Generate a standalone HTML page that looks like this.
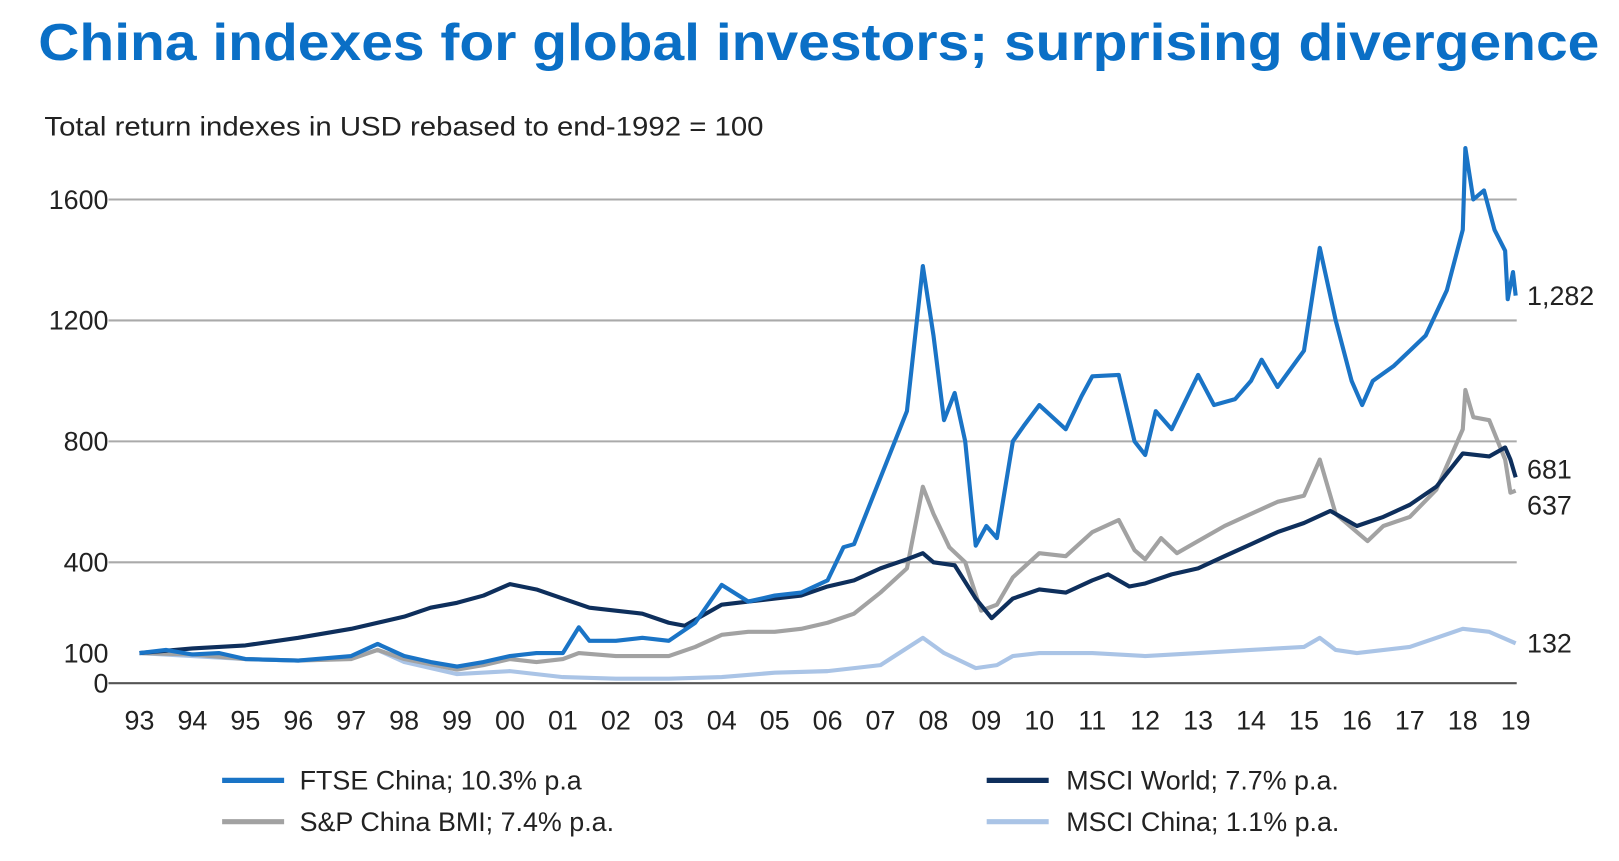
<!DOCTYPE html>
<html><head><meta charset="utf-8"><style>
html,body{margin:0;padding:0;background:#fff;}
svg{display:block;font-family:"Liberation Sans",Arial,sans-serif;}
</style></head><body>
<svg id="chart" width="1619" height="861" viewBox="0 0 1567 833" preserveAspectRatio="none" xmlns="http://www.w3.org/2000/svg">
<text x="37" y="58" font-size="50" font-weight="bold" fill="#0a6fc6" textLength="1511" lengthAdjust="spacingAndGlyphs">China indexes for global investors; surprising divergence</text>
<text x="43" y="131" font-size="26" fill="#222" textLength="696" lengthAdjust="spacingAndGlyphs">Total return indexes  in USD rebased  to end-1992  = 100</text>
<g id="grid"></g><g id="series"></g><g id="labels"></g>
<g font-size="26" fill="#222">
 <line x1="215" y1="755" x2="275" y2="755" stroke="#1a74c6" stroke-width="5"/>
 <text x="290" y="764">FTSE China; 10.3% p.a</text>
 <line x1="215" y1="795" x2="275" y2="795" stroke="#a2a2a2" stroke-width="5"/>
 <text x="290" y="804">S&amp;P China BMI; 7.4% p.a.</text>
 <line x1="955" y1="755" x2="1015" y2="755" stroke="#0e2f5c" stroke-width="5"/>
 <text x="1032" y="764">MSCI World; 7.7% p.a.</text>
 <line x1="955" y1="795" x2="1015" y2="795" stroke="#aac4e6" stroke-width="5"/>
 <text x="1032" y="804">MSCI China; 1.1% p.a.</text>
</g>
</svg>
<script>
const yTicks=[0,100,400,800,1200,1600];
const gridVals=[400,800,1200,1600];
const xTickLabels=["93","94","95","96","97","98","99","00","01","02","03","04","05","06","07","08","09","10","11","12","13","14","15","16","17","18","19"];
const ftseX=[93,93.5,94,94.5,95,96,97,97.5,98,98.5,99,99.5,100,100.5,101,101.3,101.5,102,102.5,103,103.5,104,104.5,105,105.5,106,106.3,106.5,107,107.5,107.8,108,108.2,108.4,108.6,108.8,109,109.2,109.5,109.7,110,110.5,110.8,111,111.5,111.8,112,112.2,112.5,113,113.3,113.7,114,114.2,114.5,115,115.3,115.6,115.9,116.1,116.3,116.7,117,117.3,117.7,118,118.05,118.2,118.4,118.6,118.8,118.85,118.95,119];
const ftseV=[100,110,95,100,80,75,90,130,90,70,55,70,90,100,100,185,140,140,150,140,200,325,270,290,300,340,450,460,680,900,1380,1150,870,960,800,455,520,480,800,850,920,840,950,1015,1020,800,755,900,840,1020,920,940,1000,1070,980,1100,1440,1200,1000,920,1000,1050,1100,1150,1300,1500,1770,1600,1630,1500,1430,1270,1360,1282];
const worldX=[93,94,95,96,97,98,98.5,99,99.5,100,100.5,101,101.5,102,102.5,103,103.3,104,104.5,105,105.5,106,106.5,107,107.5,107.8,108,108.4,108.8,109.1,109.5,110,110.5,111,111.3,111.7,112,112.5,113,113.5,114,114.5,115,115.5,116,116.5,117,117.5,118,118.5,118.8,118.9,119];
const worldV=[100,115,125,150,180,220,250,266,290,328,310,280,250,240,230,200,190,260,270,280,290,320,340,380,410,430,400,390,280,215,280,310,300,340,360,320,330,360,380,420,460,500,530,570,520,550,590,650,760,750,780,740,681];
const spX=[93,94,95,96,97,97.5,98,99,99.5,100,100.5,101,101.3,102,102.5,103,103.5,104,104.5,105,105.5,106,106.5,107,107.5,107.8,108,108.3,108.6,108.9,109.2,109.5,110,110.5,111,111.5,111.8,112,112.3,112.6,113,113.5,114,114.5,115,115.3,115.6,116,116.2,116.5,117,117.5,118,118.05,118.2,118.5,118.8,118.9,119];
const spV=[100,95,80,75,80,110,80,45,60,80,70,80,100,90,90,90,120,160,170,170,180,200,230,300,380,650,560,450,400,240,260,350,430,420,500,540,440,410,480,430,470,520,560,600,620,740,560,500,470,520,550,640,840,970,880,870,740,630,637];
const mcX=[93,94,95,96,97,97.5,98,99,100,101,102,103,104,105,106,107,107.8,108.2,108.8,109.2,109.5,110,111,112,113,114,115,115.3,115.6,116,117,118,118.5,119];
const mcV=[100,90,80,75,85,110,70,30,40,20,15,15,20,35,40,60,150,100,50,60,90,100,100,90,100,110,120,150,110,100,120,180,170,132];
const endLabels=["1,282","681","637","132"];
const endVals=[1282,681,637,132];

const NS="http://www.w3.org/2000/svg";
function xS(yr){return 135+(yr-93)*(1467-135)/26;}
function yS(v){return 661-v*0.2925;}
function mk(tag,attrs,parent){const e=document.createElementNS(NS,tag);for(const k in attrs)e.setAttribute(k,attrs[k]);parent.appendChild(e);return e;}
const grid=document.getElementById('grid'),ser=document.getElementById('series'),lab=document.getElementById('labels');
gridVals.forEach(v=>{const l=mk('line',{x1:105,x2:1468,y1:yS(v),y2:yS(v),stroke:'#aaaaaa','stroke-width':2},grid);

});
const ax=mk('line',{x1:105,x2:1468,y1:yS(0),y2:yS(0),stroke:'#555','stroke-width':2},grid);


yTicks.forEach(v=>{const t=mk('text',{x:105,y:yS(v)+9,'font-size':26,'text-anchor':'end',fill:'#222'},lab);t.textContent=v;

});
xTickLabels.forEach((s,i)=>{const t=mk('text',{x:xS(93+i),y:706,'font-size':26,'text-anchor':'middle',fill:'#222'},lab);t.textContent=s;

});
function line(xs,vs,color,name){const d=xs.map((x,i)=>(i?'L':'M')+xS(x).toFixed(1)+','+yS(vs[i]).toFixed(1)).join('');
const p=mk('path',{d:d,fill:'none',stroke:color,'stroke-width':4,'stroke-linejoin':'round'},ser);

}
line(mcX,mcV,'#aac4e6','msci-china-line');
line(spX,spV,'#a2a2a2','sp-china-bmi-line');
line(worldX,worldV,'#0e2f5c','msci-world-line');
line(ftseX,ftseV,'#1a74c6','ftse-china-line');
const endY=[yS(endVals[0]),yS(endVals[1])-8,yS(endVals[2])+14,yS(endVals[3])];
endLabels.forEach((s,i)=>{const t=mk('text',{x:1478,y:endY[i]+9,'font-size':26,fill:'#222'},lab);t.textContent=s;

});
</script>
</body></html>
